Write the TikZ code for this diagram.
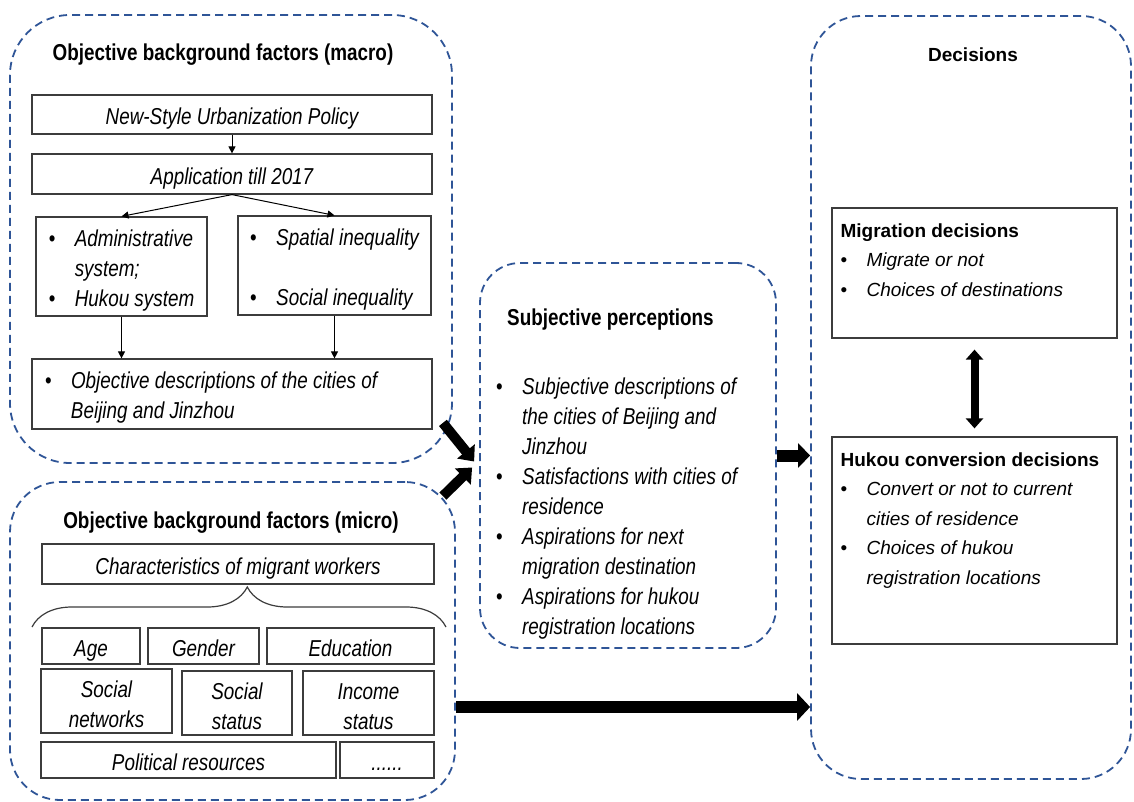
\documentclass[tikz,border=0pt]{standalone}
\usepackage{fontspec}
\setmainfont{Liberation Sans}
\newfontfamily\narrowfont[FakeStretch=0.82]{Liberation Sans}
\usetikzlibrary{arrows.meta}
\usetikzlibrary{calc}
\usetikzlibrary{decorations.pathreplacing}
\definecolor{groupblue}{RGB}{47,85,151}
\definecolor{boxgray}{RGB}{60,60,60}
\newcommand{\bitem}{\makebox[26pt][l]{\upshape\textbullet}}
\newcommand{\bcont}{\hspace*{26pt}}
\newcommand{\tallstrut}{\rule{0pt}{24pt}}
\tikzstyle{group}=[draw=groupblue, line width=1.8pt, dash pattern=on 8pt off 5pt, rounded corners=50pt, inner sep=0pt]
\tikzstyle{box}=[draw=boxgray, line width=1.2pt, inner sep=0pt, align=center, font=\narrowfont\itshape\fontsize{23}{30}\selectfont]
\tikzstyle{oneline}=[text height=24pt, text depth=3pt]
\tikzstyle{ntext}=[inner sep=0pt, align=left, font=\narrowfont\itshape\fontsize{23}{30}\selectfont]
\tikzstyle{heading}=[inner sep=0pt, font=\narrowfont\bfseries\fontsize{23}{30}\selectfont]
\tikzstyle{dbox}=[draw=boxgray, line width=1.2pt, inner sep=0pt]
\tikzstyle{dtext}=[inner sep=0pt, align=left, font=\fontsize{19}{29.5}\selectfont]
\tikzstyle{smallarrow}=[-{Triangle[width=7pt,length=7pt]}, line width=1pt]
\tikzstyle{bigarrow}=[-{Triangle[width=26pt,length=14pt]}, line width=12pt]
\tikzstyle{twoway}=[{Triangle[width=17pt,length=10pt]}-{Triangle[width=17pt,length=10pt]}, line width=8pt]

\begin{document}
\begin{tikzpicture}[x=1pt, y=-1pt]
        \useasboundingbox (0,0) rectangle (1134,802);
        % dashed groups
        \node[group, rounded corners=60pt, minimum width=442pt, minimum height=448pt] (macro) at (231,239) {};
        \node[group, minimum width=445pt, minimum height=318pt]                      (micro) at (232.5,641) {};
        \node[group, rounded corners=40pt, minimum width=296pt, minimum height=385pt] (subj) at (628,455.5) {};
        \node[group, minimum width=320pt, minimum height=763pt]                      (dec) at (971,397.5) {};

        % macro factors
        \node[heading] (macrotitle) at (223,55) {Objective background factors (macro)};
        \node[box, oneline, minimum width=400pt, minimum height=39pt] (policy) at (232,114.5) {New-Style Urbanization Policy};
        \node[box, oneline, minimum width=400pt, minimum height=40pt] (app) at (232,174) {Application till 2017};
        \node[box, align=left, minimum width=171pt, minimum height=99pt] (admin) at (121.5,266.5)
            {\tallstrut\bitem Administrative\\ \bcont system;\\ \bitem Hukou system};
        \node[box, align=left, minimum width=193pt, minimum height=99pt] (spatial) at (334.5,265.5)
            {\tallstrut\bitem Spatial inequality\\ ~\\ \bitem Social inequality};
        \node[box, align=left, minimum width=400pt, minimum height=70pt] (objdesc) at (232,394)
            {\tallstrut\makebox[374pt][l]{\bitem Objective descriptions of the cities of}\\ \bcont Beijing and Jinzhou};
        \draw[smallarrow] (policy) -- (app);
        \draw[smallarrow] (app.south) -- (admin.north);
        \draw[smallarrow] (app.south) -- (spatial.north);
        \draw[smallarrow] (admin.south) -- (admin.south |- objdesc.north);
        \draw[smallarrow] (spatial.south) -- (spatial.south |- objdesc.north);

        % micro factors
        \node[heading] (microtitle) at (231,523) {Objective background factors (micro)};
        \node[box, oneline, minimum width=392pt, minimum height=40pt] (chars) at (238,564) {Characteristics of migrant workers};
        \coordinate (braceL) at (32,627);
        \coordinate (braceR) at (446,627);
        \draw[boxgray, line width=1.2pt, decorate, decoration={brace, amplitude=40pt, aspect=0.52}] (braceL) -- (braceR);
        \node[box, oneline, minimum width=98pt, minimum height=36pt]  (age) at (91,646) {Age};
        \node[box, oneline, minimum width=111pt, minimum height=36pt] (gender) at (203.5,646) {Gender};
        \node[box, oneline, minimum width=167pt, minimum height=36pt] (edu) at (350.5,646) {Education};
        \node[box, minimum width=131pt, minimum height=64pt] (socnet) at (106.5,701) {\tallstrut Social\\ networks};
        \node[box, minimum width=110pt, minimum height=64pt] (socstat) at (237,703) {\tallstrut Social\\ status};
        \node[box, minimum width=131pt, minimum height=64pt] (income) at (368.5,703) {\tallstrut Income\\ status};
        \node[box, oneline, minimum width=295pt, minimum height=36pt] (political) at (188.5,760) {Political resources};
        \node[box, oneline, minimum width=94pt, minimum height=36pt]  (etc) at (387,760) {......};

        % subjective perceptions
        \node[heading, anchor=west] (subjtitle) at (507,320) {Subjective perceptions};
        \node[ntext, anchor=west] (subjlist) at (496,509)
            {\bitem Subjective descriptions of\\ \bcont the cities of Beijing and\\ \bcont Jinzhou\\
             \bitem Satisfactions with cities of\\ \bcont residence\\
             \bitem Aspirations for next\\ \bcont migration destination\\
             \bitem Aspirations for hukou\\ \bcont registration locations};

        % decisions
        \node[dtext, font=\bfseries\fontsize{19}{29.5}\selectfont] (dectitle) at (973,55) {Decisions};
        \node[dbox, minimum width=285pt, minimum height=130pt] (migr) at (974.5,273) {};
        \node[dbox, minimum width=285pt, minimum height=207pt] (hukou) at (974.5,540.5) {};
        \node[dtext, anchor=north west] (migrtxt) at ($(migr.north west)+(9,16)$)
            {\textbf{Migration decisions}\\ \bitem\textit{Migrate or not}\\ \bitem\textit{Choices of destinations}};
        \node[dtext, anchor=north west] (hukoutxt) at ($(hukou.north west)+(9,16)$)
            {\textbf{Hukou conversion decisions}\\ \bitem\textit{Convert or not to current}\\ \bcont\textit{cities of residence}\\
             \bitem\textit{Choices of hukou}\\ \bcont\textit{registration locations}};
        \draw[twoway, shorten <=11pt, shorten >=8pt] (migr.south) -- (hukou.north);

        % thick arrows
        \coordinate (lowrow) at (0,707);
        \draw[bigarrow, line width=10pt, -{Triangle[width=22pt,length=13pt]}] ($(macro.south east)+(-10,-41)$) -- ($(subj.west)+(-5,6)$);
        \draw[bigarrow, line width=10pt, -{Triangle[width=22pt,length=13pt]}] ($(micro.north east)+(-13,15)$) -- ($(subj.west)+(-7,12)$);
        \draw[bigarrow, -{Triangle[width=24pt,length=12pt]}] (subj.east) -- (subj.east -| dec.west);
        \draw[bigarrow, -{Triangle[width=27pt,length=13pt]}] (micro.east |- lowrow) -- (dec.west |- lowrow);
    \end{tikzpicture}
\end{document}
